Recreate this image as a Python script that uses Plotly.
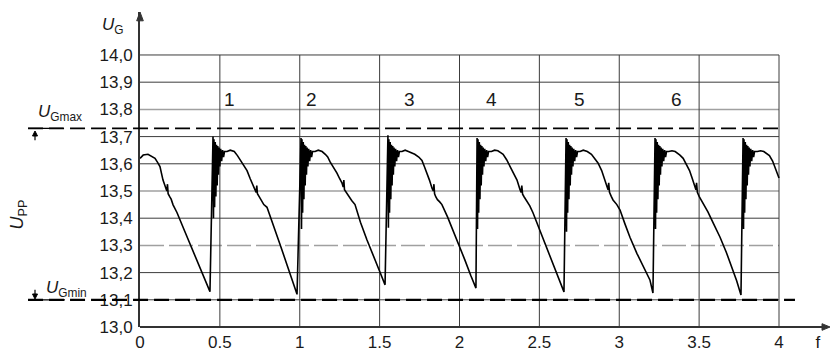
import plotly.graph_objects as go

# ---------------- data ----------------
y_tick_vals = [13.0, 13.1, 13.2, 13.3, 13.4, 13.5, 13.6, 13.7, 13.8, 13.9, 14.0]
y_tick_text = ["13,0", "13,1", "13,2", "13,3", "13,4", "13,5", "13,6", "13,7", "13,8", "13,9", "14,0"]
x_tick_vals = [0, 0.5, 1, 1.5, 2, 2.5, 3, 3.5, 4, 4.244]
x_tick_text = ["0", "0.5", "1", "1.5", "2", "2.5", "3", "3.5", "4", "f"]

u_gmax = 13.73
u_gmin = 13.10

cycle_labels = ["1", "2", "3", "4", "5", "6"]
cycle_label_x = [0.5625, 1.075, 1.6875, 2.2, 2.75, 3.356]
cycle_label_y = 13.835

dark_grid_y = [13.1, 13.2, 13.4, 13.6, 13.7, 13.9, 14.0]
light_grid_y = [13.5, 13.8]
dashed_grid_y = [13.3]
vert_grid_x = [0.5, 1, 1.5, 2, 2.5, 3, 3.5, 4]

# waveform, read segment by segment
seg0_x = [0, 0.02, 0.05, 0.075, 0.094, 0.11, 0.125, 0.144, 0.16, 0.168, 0.172, 0.176, 0.185, 0.195, 0.207, 0.232, 0.28, 0.33, 0.38, 0.415, 0.438]
seg0_y = [13.62, 13.632, 13.635, 13.628, 13.62, 13.605, 13.59, 13.54, 13.515, 13.50, 13.525, 13.49, 13.48, 13.47, 13.449, 13.42, 13.352, 13.282, 13.211, 13.162, 13.13]

seg1_x = [0.457, 0.460, 0.463, 0.467, 0.471, 0.475, 0.479, 0.483, 0.487, 0.491, 0.495, 0.500, 0.505, 0.511, 0.517, 0.523, 0.529,
          0.545, 0.565, 0.59, 0.61, 0.626, 0.65, 0.67, 0.69, 0.707, 0.72, 0.727, 0.731, 0.735, 0.745, 0.76, 0.775, 0.795,
          0.84, 0.88, 0.92, 0.955, 0.983]
seg1_y = [13.70, 13.40, 13.69, 13.44, 13.68, 13.48, 13.67, 13.52, 13.665, 13.56, 13.66, 13.59, 13.655, 13.61, 13.65, 13.625, 13.645,
          13.645, 13.65, 13.645, 13.63, 13.615, 13.595, 13.575, 13.545, 13.52, 13.505, 13.495, 13.52, 13.49, 13.48, 13.465, 13.45, 13.44,
          13.367, 13.298, 13.229, 13.168, 13.12]

seg2_x = [1.008, 1.011, 1.014, 1.018, 1.022, 1.026, 1.030, 1.034, 1.038, 1.042, 1.046, 1.051, 1.056, 1.062, 1.068, 1.074, 1.080,
          1.096, 1.116, 1.14, 1.16, 1.175, 1.19, 1.21, 1.233, 1.25, 1.264, 1.272, 1.276, 1.280, 1.29, 1.305, 1.325, 1.346,
          1.38, 1.421, 1.46, 1.50, 1.534]
seg2_y = [13.695, 13.36, 13.69, 13.42, 13.68, 13.47, 13.67, 13.52, 13.665, 13.56, 13.66, 13.59, 13.655, 13.61, 13.65, 13.625, 13.645,
          13.645, 13.65, 13.645, 13.635, 13.625, 13.607, 13.59, 13.566, 13.545, 13.53, 13.515, 13.54, 13.505, 13.495, 13.48, 13.465, 13.45,
          13.385, 13.32, 13.26, 13.205, 13.155]

seg3_x = [1.552, 1.555, 1.558, 1.562, 1.566, 1.570, 1.574, 1.578, 1.582, 1.586, 1.590, 1.595, 1.600, 1.606, 1.612, 1.618, 1.624,
          1.64, 1.66, 1.68, 1.70, 1.72, 1.745, 1.765, 1.78, 1.797, 1.812, 1.828, 1.836, 1.840, 1.844, 1.852, 1.862, 1.876, 1.890,
          1.925, 1.959, 2.0, 2.034, 2.07, 2.103]
seg3_y = [13.705, 13.365, 13.69, 13.42, 13.68, 13.47, 13.67, 13.52, 13.665, 13.56, 13.66, 13.59, 13.655, 13.61, 13.65, 13.625, 13.645,
          13.645, 13.65, 13.645, 13.64, 13.635, 13.625, 13.612, 13.59, 13.566, 13.54, 13.51, 13.50, 13.525, 13.49, 13.478, 13.468, 13.46, 13.45,
          13.405, 13.357, 13.30, 13.246, 13.19, 13.143]

seg4_x = [2.110, 2.113, 2.116, 2.120, 2.124, 2.128, 2.132, 2.136, 2.140, 2.144, 2.148, 2.153, 2.158, 2.164, 2.170, 2.176, 2.182,
          2.20, 2.22, 2.24, 2.26, 2.273, 2.295, 2.316, 2.34, 2.36, 2.379, 2.386, 2.390, 2.395, 2.405, 2.423, 2.44, 2.46,
          2.50, 2.548, 2.59, 2.625, 2.654]
seg4_y = [13.695, 13.36, 13.69, 13.42, 13.68, 13.47, 13.67, 13.52, 13.665, 13.56, 13.66, 13.59, 13.655, 13.61, 13.65, 13.625, 13.645,
          13.645, 13.65, 13.648, 13.64, 13.635, 13.615, 13.59, 13.565, 13.54, 13.505, 13.495, 13.52, 13.488, 13.478, 13.462, 13.445, 13.42,
          13.36, 13.283, 13.225, 13.175, 13.129]

seg5_x = [2.667, 2.670, 2.673, 2.677, 2.681, 2.685, 2.689, 2.693, 2.697, 2.701, 2.705, 2.710, 2.715, 2.721, 2.727, 2.733, 2.739,
          2.755, 2.775, 2.80, 2.826, 2.848, 2.867, 2.89, 2.911, 2.923, 2.93, 2.934, 2.939, 2.95, 2.961, 2.985, 3.005,
          3.035, 3.067, 3.111, 3.15, 3.192, 3.211]
seg5_y = [13.695, 13.35, 13.69, 13.42, 13.68, 13.47, 13.67, 13.52, 13.665, 13.56, 13.66, 13.59, 13.655, 13.61, 13.65, 13.625, 13.645,
          13.645, 13.65, 13.645, 13.635, 13.62, 13.603, 13.575, 13.54, 13.515, 13.505, 13.53, 13.495, 13.48, 13.467, 13.45, 13.43,
          13.38, 13.33, 13.27, 13.225, 13.173, 13.125]

seg6_x = [3.224, 3.227, 3.230, 3.234, 3.238, 3.242, 3.246, 3.250, 3.254, 3.258, 3.262, 3.267, 3.272, 3.278, 3.284, 3.290, 3.296,
          3.31, 3.33, 3.35, 3.365, 3.38, 3.40, 3.424, 3.44, 3.455, 3.474, 3.48, 3.484, 3.489, 3.50, 3.518, 3.535, 3.555,
          3.59, 3.631, 3.67, 3.706, 3.735, 3.762]
seg6_y = [13.695, 13.36, 13.69, 13.42, 13.68, 13.47, 13.67, 13.52, 13.665, 13.56, 13.66, 13.59, 13.655, 13.61, 13.65, 13.625, 13.645,
          13.645, 13.648, 13.645, 13.64, 13.632, 13.62, 13.596, 13.575, 13.55, 13.515, 13.505, 13.53, 13.495, 13.48, 13.462, 13.445, 13.423,
          13.38, 13.33, 13.275, 13.22, 13.17, 13.118]

seg7_x = [3.775, 3.778, 3.781, 3.785, 3.789, 3.793, 3.797, 3.801, 3.805, 3.809, 3.813, 3.818, 3.823, 3.829, 3.835, 3.841, 3.847,
          3.865, 3.885, 3.905, 3.925, 3.94, 3.96, 3.98, 4.0]
seg7_y = [13.695, 13.36, 13.69, 13.42, 13.68, 13.47, 13.67, 13.52, 13.665, 13.56, 13.66, 13.59, 13.655, 13.61, 13.65, 13.625, 13.645,
          13.645, 13.648, 13.645, 13.635, 13.63, 13.61, 13.58, 13.548]

t_values = seg0_x + seg1_x + seg2_x + seg3_x + seg4_x + seg5_x + seg6_x + seg7_x
u_values = seg0_y + seg1_y + seg2_y + seg3_y + seg4_y + seg5_y + seg6_y + seg7_y

# ---------------- figure ----------------
FONT = "Liberation Sans, Arial, sans-serif"
TXT = "#1a1a1a"
fig = go.Figure()
fig.add_trace(go.Scatter(x=t_values, y=u_values, mode="lines",
                         line=dict(color="black", width=1.6), hoverinfo="skip", showlegend=False))

shapes = []
for yv in dark_grid_y:
    shapes.append(dict(type="line", xref="x", yref="y", x0=0, x1=4, y0=yv, y1=yv,
                       line=dict(color="#3c3c3c", width=1), layer="below"))
for yv in light_grid_y:
    shapes.append(dict(type="line", xref="x", yref="y", x0=0, x1=4, y0=yv, y1=yv,
                       line=dict(color="#a0a0a0", width=1.5), layer="below"))
for yv in dashed_grid_y:
    shapes.append(dict(type="line", xref="x", yref="y", x0=0, x1=4, y0=yv, y1=yv,
                       line=dict(color="#a0a0a0", width=1.5, dash="24px,5px"), layer="below"))
for xv in vert_grid_x:
    shapes.append(dict(type="line", xref="x", yref="y", x0=xv, x1=xv, y0=13.0, y1=14.0,
                       line=dict(color="#3c3c3c", width=1), layer="below"))

# U_Gmax / U_Gmin limit lines (extend left of the axis)
shapes.append(dict(type="line", xref="paper", yref="y", x0=-0.1618, x1=0.9234, y0=u_gmax, y1=u_gmax,
                   line=dict(color="black", width=1.6, dash="15px,6px")))
shapes.append(dict(type="line", xref="paper", yref="y", x0=-0.1618, x1=-0.1113, y0=u_gmax, y1=u_gmax,
                   line=dict(color="black", width=1.2)))
shapes.append(dict(type="line", xref="paper", yref="y", x0=-0.1618, x1=0.9465, y0=u_gmin, y1=u_gmin,
                   line=dict(color="black", width=2.2, dash="15px,6px")))
shapes.append(dict(type="line", xref="paper", yref="y", x0=-0.1618, x1=-0.1084, y0=u_gmin, y1=u_gmin,
                   line=dict(color="black", width=1.2)))
# x axis line extending to the arrow
shapes.append(dict(type="line", xref="paper", yref="paper", x0=0, x1=0.9928, y0=0, y1=0,
                   line=dict(color="#333333", width=2)))
# arrowheads (paper coordinates)
shapes.append(dict(type="path", xref="paper", yref="paper",
                   path="M 0.99711 0 L 0.98555 0.0105 L 0.98555 -0.0105 Z",
                   fillcolor="#333333", line=dict(color="#333333", width=1)))
shapes.append(dict(type="path", xref="paper", yref="paper",
                   path="M 0 1.0 L -0.0048 0.972 L 0.0048 0.972 Z",
                   fillcolor="#333333", line=dict(color="#333333", width=1)))
# small dimension arrows at U_Gmax / U_Gmin
shapes.append(dict(type="path", xref="paper", yref="paper",
                   path="M -0.15173 0.6222 L -0.15534 0.6063 L -0.14812 0.6063 Z",
                   fillcolor="black", line=dict(color="black", width=1)))
shapes.append(dict(type="line", xref="paper", yref="paper", x0=-0.15173, x1=-0.15173, y0=0.6063, y1=0.593,
                   line=dict(color="black", width=1.2)))
shapes.append(dict(type="path", xref="paper", yref="paper",
                   path="M -0.15173 0.0889 L -0.15534 0.1048 L -0.14812 0.1048 Z",
                   fillcolor="black", line=dict(color="black", width=1)))
shapes.append(dict(type="line", xref="paper", yref="paper", x0=-0.15173, x1=-0.15173, y0=0.1048, y1=0.118,
                   line=dict(color="black", width=1.2)))

annotations = []
for lab, lx in zip(cycle_labels, cycle_label_x):
    annotations.append(dict(x=lx, y=cycle_label_y, xref="x", yref="y", text=lab, showarrow=False,
                            xanchor="center", yanchor="middle",
                            font=dict(family=FONT, size=19, color=TXT)))

annotations += [
    dict(x=-0.0387, y=0.955, xref="paper", yref="paper", xanchor="center", yanchor="middle",
         text="<i>U</i><sub>G</sub>", showarrow=False, font=dict(family=FONT, size=17, color=TXT)),
    dict(x=-0.1496, y=0.68, xref="paper", yref="paper", xanchor="left", yanchor="middle",
         text="<i>U</i><sub>Gmax</sub>", showarrow=False, font=dict(family=FONT, size=17, color=TXT)),
    dict(x=-0.1394, y=0.122, xref="paper", yref="paper", xanchor="left", yanchor="middle",
         text="<i>U</i><sub>Gmin</sub>", showarrow=False, font=dict(family=FONT, size=17, color=TXT)),
    dict(x=-0.1754, y=0.356, xref="paper", yref="paper", xanchor="center", yanchor="middle",
         text="<i>U</i><sub>PP</sub>", textangle=-90, showarrow=False, font=dict(family=FONT, size=18, color=TXT)),
]

fig.update_layout(
    width=832, height=353,
    margin=dict(l=140, r=0, t=12, b=26),
    paper_bgcolor="white", plot_bgcolor="white",
    shapes=shapes, annotations=annotations,
    showlegend=False,
    xaxis=dict(range=[0, 4.3318], tickvals=x_tick_vals, ticktext=x_tick_text, showgrid=False, zeroline=False,
               showline=False, ticks="", automargin=False, ticklabelstandoff=3,
               tickfont=dict(family=FONT, size=17, color=TXT), fixedrange=True),
    yaxis=dict(range=[13.0, 14.158], tickvals=y_tick_vals, ticktext=y_tick_text, showgrid=False, zeroline=False,
               showline=True, linecolor="#333333", linewidth=2, ticks="", automargin=False,
               ticklabelstandoff=2,
               tickfont=dict(family=FONT, size=17, color=TXT), fixedrange=True),
)

fig.write_html("out.html", config={"displayModeBar": False},
               post_script="document.body.style.margin='0px';document.body.style.overflow='hidden';")
